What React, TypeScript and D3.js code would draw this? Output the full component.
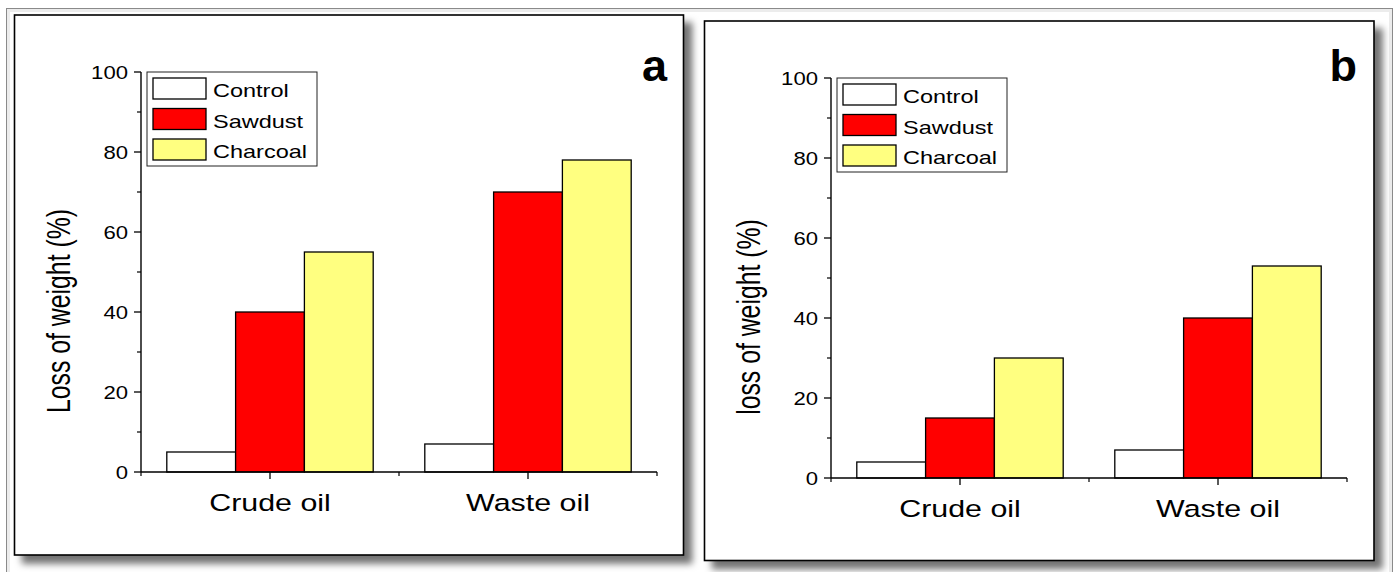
import React from "react";
import * as d3 from "d3";

const categories = ["Crude oil", "Waste oil"];
const seriesNames = ["Control", "Sawdust", "Charcoal"];
const seriesColors = ["#ffffff", "#ff0000", "#ffff80"];
const valuesA = [
  [5, 40, 55],
  [7, 70, 78],
];
const valuesB = [
  [4, 15, 30],
  [7, 40, 53],
];
const yTicks = [0, 20, 40, 60, 80, 100];
const yMinorTicks = [10, 30, 50, 70, 90];

const FONT = "Arial, 'Liberation Sans', Helvetica, sans-serif";
const SX = 1.25; // text in the original is stretched horizontally

type PanelProps = {
  frame: { x: number; y: number; w: number; h: number };
  plot: { x0: number; x1: number; y0: number; y1: number };
  values: number[][];
  yTitle: string;
  letter: string;
};

const Panel = ({ frame, plot, values, yTitle, letter }: PanelProps) => {
  const x = d3.scaleBand().domain(categories).range([plot.x0, plot.x1]).padding(0);
  const bw = x.bandwidth();
  const inner = d3
    .scaleBand()
    .domain(seriesNames)
    .range([bw * 0.1, bw * 0.9])
    .padding(0);
  const y = d3.scaleLinear().domain([0, 100]).range([plot.y0, plot.y1]);

  const legendLeft = plot.x0 + 6;
  const legendTop = y(100);

  return (
    <g>
      <rect
        x={frame.x}
        y={frame.y}
        width={frame.w}
        height={frame.h}
        fill="#fff"
        stroke="#000"
        strokeWidth={1.6}
        filter="url(#shadow)"
      />
      {/* bars */}
      {categories.map((c, ci) =>
        seriesNames.map((s, si) => (
          <rect
            key={c + s}
            x={(x(c) as number) + (inner(s) as number)}
            y={y(values[ci][si])}
            width={inner.bandwidth()}
            height={y(0) - y(values[ci][si])}
            fill={seriesColors[si]}
            stroke="#000"
            strokeWidth={1.3}
          />
        ))
      )}
      {/* y axis */}
      <line x1={plot.x0} x2={plot.x0} y1={y(0)} y2={y(100)} stroke="#000" strokeWidth={1.4} />
      {yTicks.map((t) => (
        <g key={t}>
          <line x1={plot.x0 - 7} x2={plot.x0} y1={y(t)} y2={y(t)} stroke="#000" strokeWidth={1.3} />
          <text
            transform={`translate(${plot.x0 - 13},${y(t) + 6.5}) scale(${SX},1)`}
            textAnchor="end"
            fontFamily={FONT}
            fontSize={17.7}
            fill="#000"
          >
            {t}
          </text>
        </g>
      ))}
      {yMinorTicks.map((t) => (
        <line key={t} x1={plot.x0 - 4} x2={plot.x0} y1={y(t)} y2={y(t)} stroke="#000" strokeWidth={1.2} />
      ))}
      {/* x axis */}
      <line x1={plot.x0} x2={plot.x1} y1={y(0)} y2={y(0)} stroke="#000" strokeWidth={1.4} />
      {[plot.x0, plot.x0 + bw, plot.x1].map((px, i) => (
        <line key={i} x1={px} x2={px} y1={y(0)} y2={y(0) + 4} stroke="#000" strokeWidth={1.2} />
      ))}
      {categories.map((c) => {
        const cx = (x(c) as number) + bw / 2;
        return (
          <g key={c}>
            <line x1={cx} x2={cx} y1={y(0)} y2={y(0) + 7} stroke="#000" strokeWidth={1.3} />
            <text
              transform={`translate(${cx},${y(0) + 39}) scale(${SX},1)`}
              textAnchor="middle"
              fontFamily={FONT}
              fontSize={24.3}
              fill="#000"
            >
              {c}
            </text>
          </g>
        );
      })}
      {/* y title */}
      <text
        transform={`translate(${plot.x0 - 71},${y(0) - 161}) scale(1.33,1) rotate(-90)`}
        textAnchor="middle"
        fontFamily={FONT}
        fontSize={24.8}
        fill="#000"
      >
        {yTitle}
      </text>
      {/* legend */}
      <rect x={legendLeft} y={legendTop} width={170} height={94} fill="#fff" stroke="#222" strokeWidth={1} />
      {seriesNames.map((s, i) => (
        <g key={s}>
          <rect
            x={legendLeft + 6}
            y={legendTop + 6 + i * 30.5}
            width={53}
            height={21}
            fill={seriesColors[i]}
            stroke="#000"
            strokeWidth={1.3}
          />
          <text
            transform={`translate(${legendLeft + 66},${legendTop + 6 + i * 30.5 + 19}) scale(${SX},1)`}
            fontFamily={FONT}
            fontSize={18.8}
            fill="#000"
          >
            {s}
          </text>
        </g>
      ))}
      {/* panel letter */}
      <text
        x={plot.x1 + 10}
        y={81}
        textAnchor="end"
        fontFamily={FONT}
        fontWeight="bold"
        fontSize={45}
        fill="#000"
      >
        {letter}
      </text>
    </g>
  );
};

export default function App() {
  return (
    <svg
      width={1398}
      height={572}
      style={{ position: "absolute", left: 0, top: 0, background: "#fff" }}
    >
      <defs>
        <filter id="shadow" x="-5%" y="-5%" width="115%" height="115%">
          <feDropShadow dx={8} dy={8} stdDeviation={3.5} floodColor="#000" floodOpacity={0.55} />
        </filter>
      </defs>
      {/* outer border */}
      <rect x={8} y={10} width={1383} height={570} fill="none" stroke="#ececec" strokeWidth={4} />
      <rect x={6.5} y={8.5} width={1386} height={575} fill="none" stroke="#8a8a8a" strokeWidth={1} />
      <Panel
        frame={{ x: 14.5, y: 15, w: 669, h: 540 }}
        plot={{ x0: 141, x1: 657, y0: 472, y1: 72 }}
        values={valuesA}
        yTitle="Loss of weight (%)"
        letter="a"
      />
      <Panel
        frame={{ x: 704.5, y: 21, w: 669.5, h: 539.5 }}
        plot={{ x0: 831, x1: 1347, y0: 478, y1: 78 }}
        values={valuesB}
        yTitle="loss of weight (%)"
        letter="b"
      />
    </svg>
  );
}
